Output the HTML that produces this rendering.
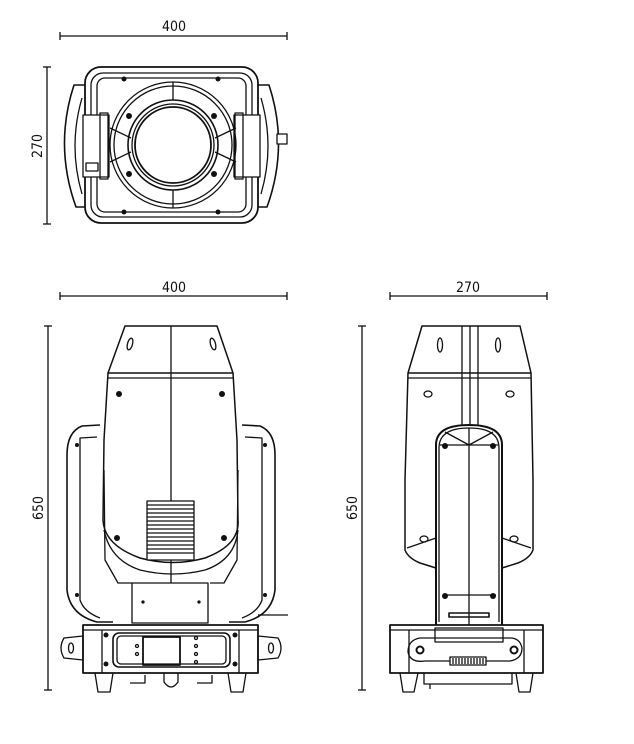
<!DOCTYPE html>
<html><head><meta charset="utf-8"><style>
html,body{margin:0;padding:0;background:#fff;}
svg{display:block}
text{font-family:"DejaVu Sans Condensed","Liberation Sans",sans-serif;font-size:14px;fill:#111}
</style></head><body>
<svg width="634" height="744" viewBox="0 0 634 744" xmlns="http://www.w3.org/2000/svg" fill="none" stroke="#111" stroke-width="1.3" stroke-linejoin="round">
<!-- ===== TOP VIEW ===== -->
<line x1="60" y1="36" x2="287" y2="36"/><line x1="60" y1="32" x2="60" y2="40"/><line x1="287" y1="32" x2="287" y2="40"/>
<text x="174" y="31" text-anchor="middle" stroke="none">400</text>
<line x1="47" y1="67" x2="47" y2="224"/><line x1="43" y1="67" x2="51" y2="67"/><line x1="43" y1="224" x2="51" y2="224"/>
<text transform="translate(42,146) rotate(-90)" text-anchor="middle" stroke="none">270</text>
<!-- side handles -->
<path d="M74,85 L98,85 L100,207 L76,207 Q54,146 74,85 Z" stroke-width="1.6"/>
<path d="M82,98 Q68,146 82,194"/>
<path d="M269,85 L245,85 L243,207 L267,207 Q289,146 269,85 Z" stroke-width="1.6"/>
<path d="M261,98 Q275,146 261,194"/>
<rect x="277" y="134" width="10" height="10" fill="#fff"/>
<!-- frame -->
<rect x="85" y="67" width="173" height="156" rx="16" stroke-width="1.8" fill="#fff"/>
<rect x="91" y="73" width="161" height="144" rx="12"/>
<rect x="97" y="78" width="149" height="134" rx="8"/>
<!-- yoke blocks -->
<rect x="83" y="115" width="26" height="62" fill="#fff"/><rect x="100" y="113" width="8" height="66"/>
<rect x="86" y="163" width="12" height="8"/>
<rect x="234" y="115" width="26" height="62" fill="#fff"/><rect x="235" y="113" width="8" height="66"/>
<!-- rings -->
<ellipse cx="173" cy="145" rx="63" ry="63"/>
<ellipse cx="173" cy="145" rx="59" ry="59"/>
<circle cx="173" cy="145" r="45" stroke-width="1.6"/>
<circle cx="173" cy="145" r="41"/>
<circle cx="173" cy="145" r="38" stroke-width="1.8"/>
<line x1="173" y1="82" x2="173" y2="100"/><line x1="173" y1="190" x2="173" y2="208"/>
<path d="M110,128 L131,138 M110,162 L131,152 M236,128 L215,138 M236,162 L215,152"/>
<g fill="#111" stroke="none">
<circle cx="124" cy="79" r="2.5"/><circle cx="218" cy="79" r="2.5"/><circle cx="124" cy="212" r="2.5"/><circle cx="218" cy="212" r="2.5"/>
<circle cx="129" cy="116" r="3"/><circle cx="214" cy="116" r="3"/><circle cx="129" cy="174" r="3"/><circle cx="214" cy="174" r="3"/>
</g>

<!-- ===== FRONT VIEW ===== -->
<line x1="60" y1="296" x2="287" y2="296"/><line x1="60" y1="292" x2="60" y2="300"/><line x1="287" y1="292" x2="287" y2="300"/>
<text x="174" y="292" text-anchor="middle" stroke="none">400</text>
<line x1="48" y1="326" x2="48" y2="690"/><line x1="44" y1="326" x2="52" y2="326"/><line x1="44" y1="690" x2="52" y2="690"/>
<text transform="translate(43,508) rotate(-90)" text-anchor="middle" stroke="none">650</text>
<!-- arms -->
<path d="M100,425 L82,426 Q67,432 67,455 L67,590 Q70,615 97,622 L113,622" stroke-width="1.6"/>
<path d="M97,437 L80,438 L80,600 Q84,612 100,618"/>
<path d="M242,425 L260,426 Q275,432 275,455 L275,590 Q272,615 245,622 L229,622" stroke-width="1.6"/>
<path d="M245,437 L262,438 L262,600 Q258,612 242,618"/>
<line x1="258" y1="615" x2="288" y2="615"/>
<!-- head -->
<path d="M125,326 L217,326 L233,373 L108,373 Z" stroke-width="1.5"/>
<ellipse cx="130" cy="344" rx="2.5" ry="6" transform="rotate(15 130 344)"/>
<ellipse cx="213" cy="344" rx="2.5" ry="6" transform="rotate(-15 213 344)"/>
<line x1="108" y1="378" x2="233" y2="378"/>
<path d="M108,373 L104,440 L103,520 Q104,545 140,558 Q173,567 205,558 Q240,545 238,520 L237,440 L233,373" stroke-width="1.5"/>
<path d="M104,530 Q110,560 140,570 Q173,578 205,570 Q235,560 238,530"/>
<path d="M104,470 L105,560 L118,583 L132,583 M238,470 L237,560 L224,583 L210,583"/>
<line x1="171" y1="326" x2="171" y2="583"/>
<rect x="132" y="583" width="76" height="40"/>
<circle cx="143" cy="602" r="1" fill="#111"/><circle cx="199" cy="602" r="1" fill="#111"/>
<rect x="147" y="501" width="47" height="59" fill="#fff"/>
<path d="M147,505 H194 M147,509 H194 M147,513 H194 M147,517 H194 M147,521 H194 M147,525 H194 M147,529 H194 M147,533 H194 M147,537 H194 M147,541 H194 M147,545 H194 M147,549 H194 M147,553 H194"/>
<g fill="#111" stroke="none">
<circle cx="119" cy="394" r="3"/><circle cx="222" cy="394" r="3"/><circle cx="117" cy="538" r="3"/><circle cx="224" cy="538" r="3"/>
<circle cx="77" cy="445" r="2"/><circle cx="265" cy="445" r="2"/><circle cx="77" cy="595" r="2"/><circle cx="265" cy="595" r="2"/>
</g>
<!-- base -->
<path d="M64,638 L83,636 L83,660 L64,658 Q58,648 64,638 Z"/><ellipse cx="71" cy="648" rx="2.5" ry="5"/>
<path d="M278,638 L258,636 L258,660 L278,658 Q284,648 278,638 Z"/><ellipse cx="271" cy="648" rx="2.5" ry="5"/>
<rect x="83" y="625" width="175" height="48" stroke-width="1.8"/>
<line x1="83" y1="630" x2="258" y2="630"/>
<line x1="102" y1="630" x2="102" y2="673"/><line x1="239" y1="630" x2="239" y2="673"/>
<rect x="113" y="633" width="117" height="34" rx="6" stroke-width="1.6"/>
<rect x="117" y="636" width="109" height="28" rx="4"/>
<rect x="143" y="637" width="37" height="28" stroke-width="1.8"/>
<g fill="#111" stroke="none"><circle cx="106" cy="635" r="2.5"/><circle cx="235" cy="635" r="2.5"/><circle cx="106" cy="664" r="2.5"/><circle cx="235" cy="664" r="2.5"/></g>
<circle cx="137" cy="646" r="1.5"/><circle cx="137" cy="654" r="1.5"/>
<circle cx="196" cy="638" r="1.5"/><circle cx="196" cy="646" r="1.5"/><circle cx="196" cy="654" r="1.5"/><circle cx="196" cy="662" r="1.5"/>
<path d="M95,673 L98,692 L110,692 L113,673 M228,673 L231,692 L243,692 L246,673"/>
<path d="M130,683 L145,683 L145,675 M197,683 L212,683 L212,675"/>
<path d="M164,673 L164,682 Q171,692 178,682 L178,673"/>

<!-- ===== SIDE VIEW ===== -->
<line x1="390" y1="296" x2="547" y2="296"/><line x1="390" y1="292" x2="390" y2="300"/><line x1="547" y1="292" x2="547" y2="300"/>
<text x="468" y="292" text-anchor="middle" stroke="none">270</text>
<line x1="362" y1="326" x2="362" y2="690"/><line x1="358" y1="326" x2="366" y2="326"/><line x1="358" y1="690" x2="366" y2="690"/>
<text transform="translate(357,508) rotate(-90)" text-anchor="middle" stroke="none">650</text>
<path d="M422,326 L520,326 L531,373 L408,373 Z" stroke-width="1.5"/>
<ellipse cx="440" cy="345" rx="2.5" ry="7"/><ellipse cx="498" cy="345" rx="2.5" ry="7"/>
<line x1="408" y1="378" x2="531" y2="378"/>
<path d="M408,373 L405,480 L405,550 Q408,558 420,563 L436,568 M531,373 L533,480 L533,550 Q530,558 518,563 L502,568" stroke-width="1.5"/>
<path d="M407,548 L436,538 M531,548 L502,538"/>
<path d="M462,326 L462,425 M470,326 L470,425 M478,326 L478,425"/>
<ellipse cx="428" cy="394" rx="4" ry="3"/><ellipse cx="510" cy="394" rx="4" ry="3"/>
<ellipse cx="424" cy="539" rx="4" ry="3"/><ellipse cx="514" cy="539" rx="4" ry="3"/>
<!-- yoke -->
<path d="M436,625 L436,445 Q436,425 469,425 Q502,425 502,445 L502,625" stroke-width="2"/>
<path d="M439,622 L439,448 Q439,428 469,428 Q499,428 499,448 L499,622"/>
<path d="M440,445 L498,445 M443,595 L496,595 M469,428 L469,625 M445,432 L469,445 L493,432"/>
<g fill="#111" stroke="none"><circle cx="445" cy="446" r="3"/><circle cx="493" cy="446" r="3"/><circle cx="445" cy="596" r="3"/><circle cx="493" cy="596" r="3"/></g>
<rect x="449" y="613" width="40" height="4" stroke-width="1.6"/>
<!-- base -->
<rect x="390" y="625" width="153" height="48" stroke-width="1.8"/>
<line x1="390" y1="630" x2="543" y2="630"/>
<line x1="409" y1="630" x2="409" y2="673"/><line x1="524" y1="630" x2="524" y2="673"/>
<path d="M435,628 L503,628 L503,642 L435,642 Z"/>
<path d="M420,638 Q408,640 408,652 Q410,663 425,661 L510,661 Q522,659 522,648 Q520,638 510,638 Z"/>
<circle cx="420" cy="650" r="3.5" stroke-width="2"/><circle cx="514" cy="650" r="3.5" stroke-width="2"/>
<rect x="450" y="657" width="36" height="8" fill="#fff"/>
<path d="M453,658 V664 M456,658 V664 M459,658 V664 M462,658 V664 M465,658 V664 M468,658 V664 M471,658 V664 M474,658 V664 M477,658 V664 M480,658 V664 M483,658 V664"/>
<path d="M400,673 L403,692 L414,692 L418,673 M516,673 L519,692 L530,692 L533,673"/>
<path d="M424,673 L424,684 L512,684 L512,673 M430,684 L430,689"/>
</svg>
</body></html>
